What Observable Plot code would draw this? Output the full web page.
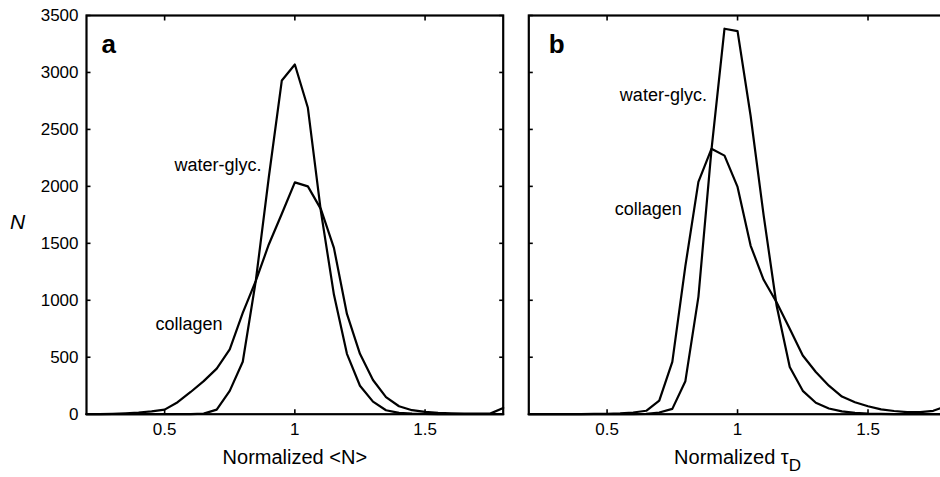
<!DOCTYPE html>
<html><head><meta charset="utf-8">
<script src="https://cdn.jsdelivr.net/npm/d3@7"></script>
<script src="https://cdn.jsdelivr.net/npm/@observablehq/plot@0.6"></script>
<style>
html,body{margin:0;padding:0;background:#fff;overflow:hidden;width:940px;height:477px;}
#wrap{position:relative;width:940px;height:477px;overflow:hidden;background:#fff;}
#a{position:absolute;left:0;top:0;width:520px;height:477px;}
#b{position:absolute;left:520px;top:0;width:440px;height:477px;}
#wrap svg{max-width:none !important;display:block;}
</style></head><body><div id="wrap"><div id="a"></div><div id="b"></div></div>
<script>
// shared normalized x grid
const xs = [0.2,0.25,0.3,0.35,0.4,0.45,0.5,0.55,0.6,0.65,0.7,0.75,0.8,0.85,0.9,0.95,1.0,1.05,1.1,1.15,1.2,1.25,1.3,1.35,1.4,1.45,1.5,1.55,1.6,1.65,1.7,1.75,1.8];

// panel a: Normalized <N>
const aWater = [0,0,0,0,0,0,0,0,0,5,40,205,460,1170,2080,2930,3070,2690,1780,1050,530,250,110,35,12,5,2,0,0,0,0,0,0];
const aCollagen = [0,0,3,8,15,25,40,105,195,290,400,570,890,1170,1490,1760,2035,2000,1800,1460,880,530,300,150,70,35,20,12,8,5,5,5,55];

// panel b: Normalized tau_D
const bWater = [0,0,0,0,0,0,0,0,0,3,15,47,290,1030,2320,3384,3363,2620,1745,950,415,205,100,50,25,12,5,3,1,0,0,0,0];
const bCollagen = [0,0,0,0,1,2,4,8,15,30,120,460,1300,2040,2330,2270,1995,1480,1180,980,750,515,370,250,155,105,70,42,28,18,18,30,70];

const xTicks = [0.5, 1, 1.5];
const yTicks = [0, 500, 1000, 1500, 2000, 2500, 3000, 3500];
const seriesNames = ["water-glyc.", "collagen"];
const panelLetters = ["a", "b"];
const xLabels = ["Normalized <N>", "Normalized \u03C4"];
const xLabelSub = ["", "D"];
const yLabel = "N";
// label anchor points in data units [x, N]
const aLabelPos = [[0.538, 2187], [0.465, 788]];
const bLabelPos = [[0.549, 2801], [0.529, 1798]];

const FONT = "'Liberation Sans', Arial, Helvetica, sans-serif";

function rows(vals) { return xs.map((x, i) => ({x, n: vals[i]})); }

function panel(opts) {
  const {water, coll, idx, showY, width, mL, mR, letterDx, labelPos} = opts;
  const noText = () => "";
  const labelData = seriesNames.map((s, i) => ({s, x: labelPos[i][0], n: labelPos[i][1]}));
  const marks = [
    Plot.line(rows(water), {x: "x", y: "n", stroke: "black", strokeWidth: 2.2}),
    Plot.line(rows(coll), {x: "x", y: "n", stroke: "black", strokeWidth: 2.2}),
    Plot.text(labelData, {x: "x", y: "n", text: "s", textAnchor: "start", fontSize: 18, fill: "black"}),
    Plot.axisX(xTicks, {anchor: "bottom", tickSize: -4.5, tickPadding: 13.5, tickFormat: d => String(d), fontSize: 17, label: null, strokeWidth: 1.6}),
    Plot.axisX(xTicks, {anchor: "top", tickSize: -4.5, tickPadding: 0, tickFormat: noText, label: null, strokeWidth: 1.6}),
    Plot.axisY(yTicks, {anchor: "left", tickSize: -4.5, tickPadding: 12.5, tickFormat: showY ? (d => String(d)) : noText, fontSize: 17, label: null, strokeWidth: 1.6}),
    Plot.axisY(yTicks, {anchor: "right", tickSize: -4.5, tickPadding: 0, tickFormat: noText, label: null, strokeWidth: 1.6}),
    Plot.frame({stroke: "black", strokeWidth: 2.2}),
    Plot.text([panelLetters[idx]], {text: d => d, frameAnchor: "top-left", dx: letterDx, dy: 29, lineAnchor: "middle", textAnchor: "start", fontWeight: "bold", fontSize: 26}),
    Plot.text([xLabels[idx]], {text: d => d, frameAnchor: "bottom", dy: 43.5, lineAnchor: "middle", textAnchor: "middle", fontSize: 20})
  ];
  if (showY) {
    marks.push(Plot.text([yLabel], {text: d => d, frameAnchor: "left", dx: -69, dy: 7, textAnchor: "middle", fontStyle: "italic", fontSize: 21}));
  }
  const svg = Plot.plot({
    width, height: 477,
    marginLeft: mL, marginRight: mR, marginTop: 15, marginBottom: 63.3,
    x: {domain: [0.2, 1.8]},
    y: {domain: [0, 3500]},
    style: {fontFamily: FONT, fontSize: "17px", background: "white", color: "black"},
    marks
  });
  svg.style.maxWidth = "none";
  svg.style.width = width + "px";
  svg.style.height = "477px";
  if (xLabelSub[idx]) {
    d3.select(svg).selectAll("text")
      .filter(function() { return this.textContent === xLabels[idx]; })
      .append("tspan").attr("dy", 7).attr("font-size", 17).text(xLabelSub[idx]);
  }
  return svg;
}

document.getElementById("a").appendChild(panel({water: aWater, coll: aCollagen, idx: 0, showY: true, width: 520, mL: 86, mR: 17.3, letterDx: 15, labelPos: aLabelPos}));
document.getElementById("b").appendChild(panel({water: bWater, coll: bCollagen, idx: 1, showY: false, width: 440, mL: 8.3, mR: 14.2, letterDx: 20, labelPos: bLabelPos}));
</script>
</body></html>
